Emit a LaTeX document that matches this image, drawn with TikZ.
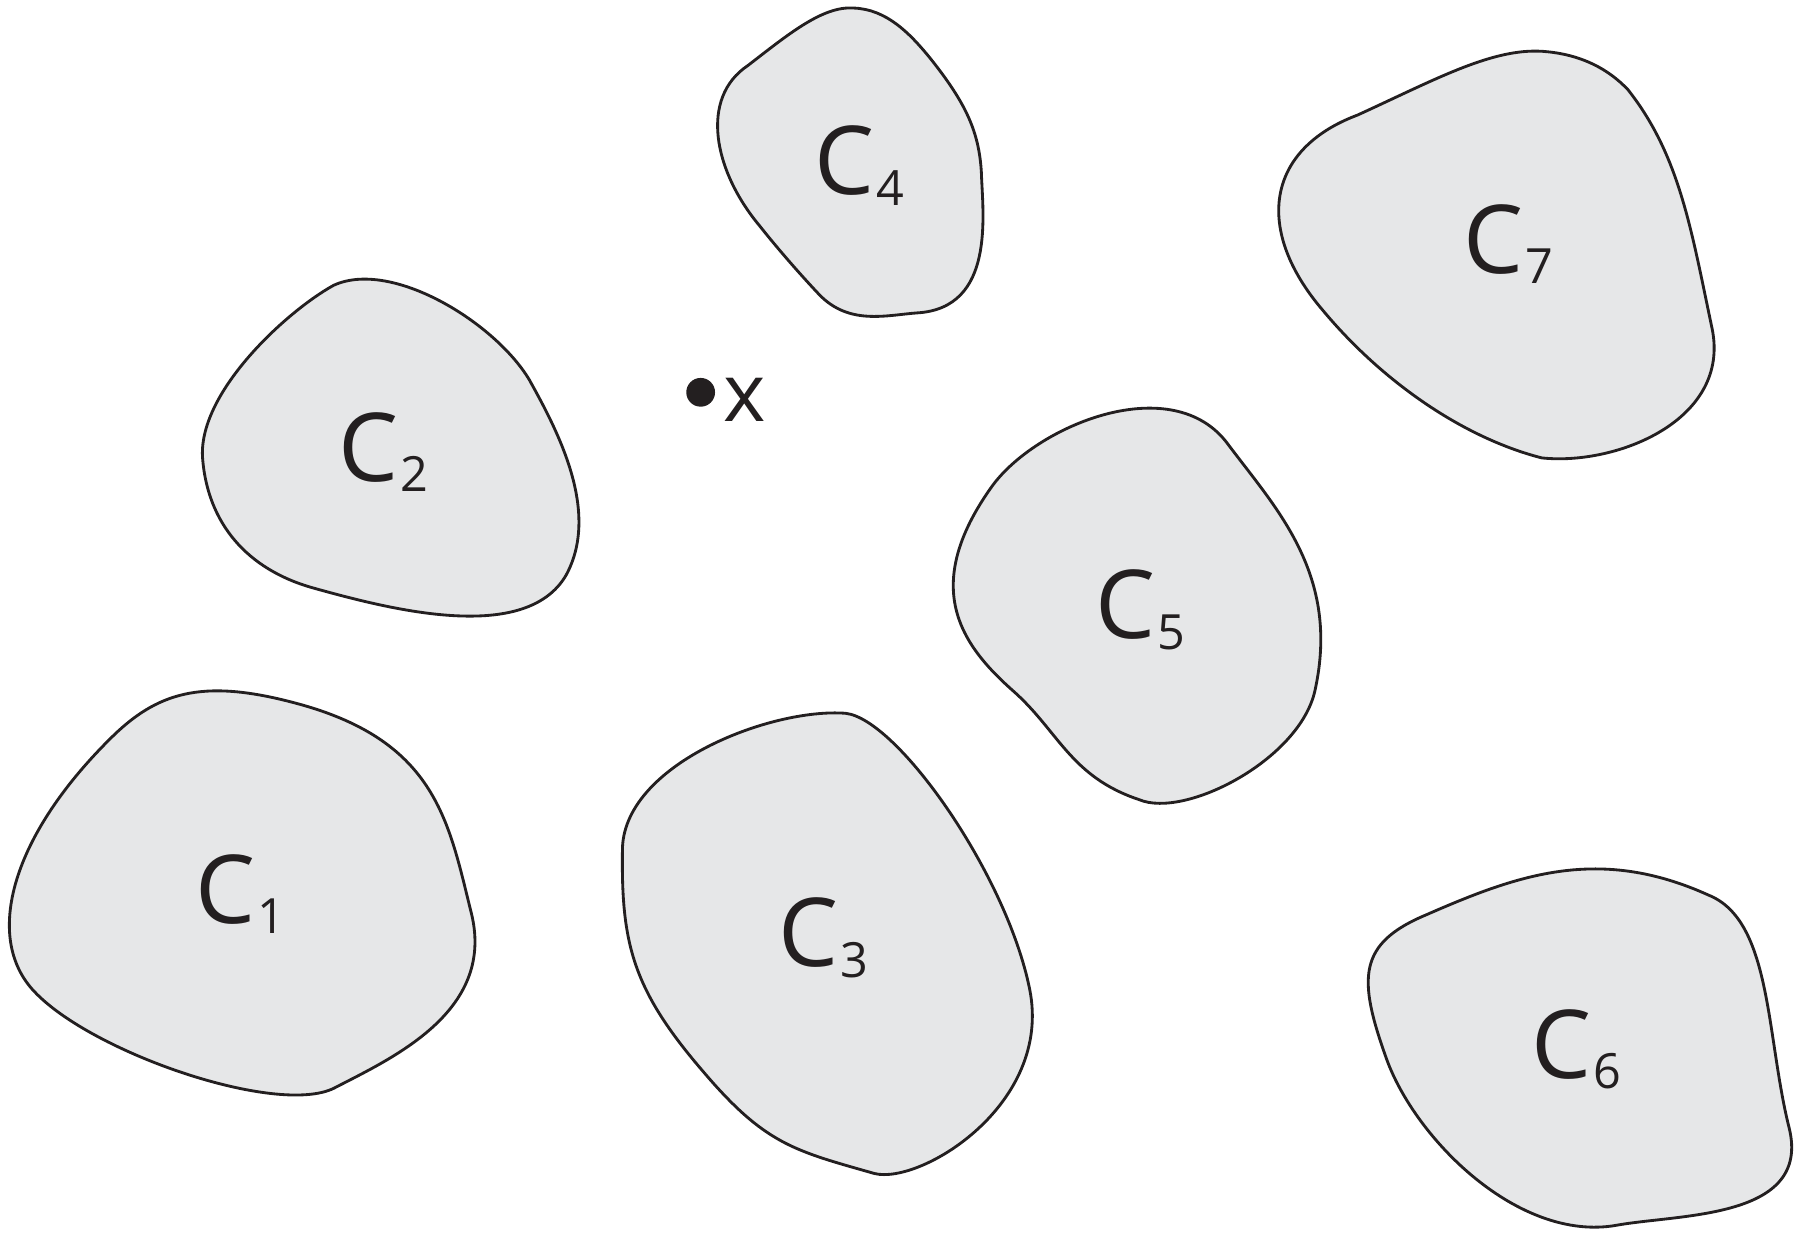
\documentclass[tikz,border=0pt]{standalone}
\usepackage{fontspec}
\setmainfont{Open Sans}
\definecolor{blobfill}{HTML}{E6E7E8}
\definecolor{ink}{HTML}{231F20}
\tikzset{
  blob/.style={draw=ink, fill=blobfill, line width=0.7pt, line join=round},
  lbl/.style={text=ink, inner sep=0pt}
}
\newcommand{\clab}[1]{{\fontsize{23.5}{24}\selectfont C\kern0.5pt\raisebox{-2.6pt}{\fontsize{12}{12}\selectfont #1}}}
\begin{document}
\begin{tikzpicture}[x=0.01cm,y=-0.01cm]
\useasboundingbox (0,0) rectangle (1568,1095);
% C4
\draw[blob] (650,57) .. controls (685,30) and (715,5) .. (742,7)
  .. controls (770,8) and (790,28) .. (808,50)
  .. controls (840,90) and (851,115) .. (853,150)
  .. controls (854,185) and (866,268) .. (797,272)
  .. controls (770,274) and (738,283) .. (712,256)
  .. controls (695,238) and (675,215) .. (660,196)
  .. controls (620,148) and (608,85) .. (650,57) -- cycle;
% C7
\draw[blob] (1180,100) .. controls (1250,68) and (1300,40) .. (1345,45)
  .. controls (1375,48) and (1398,60) .. (1415,78)
  .. controls (1460,135) and (1470,200) .. (1488,285)
  .. controls (1505,365) and (1405,405) .. (1340,398)
  .. controls (1270,380) and (1200,330) .. (1150,270)
  .. controls (1090,200) and (1100,130) .. (1180,100) -- cycle;
% C2
\draw[blob] (290,248) .. controls (340,225) and (430,280) .. (460,330)
  .. controls (485,375) and (522,445) .. (492,500)
  .. controls (457,560) and (340,530) .. (272,511)
  .. controls (215,495) and (180,455) .. (176,397)
  .. controls (173,340) and (250,270) .. (290,248) -- cycle;
% C5
\draw[blob] (862,423) .. controls (900,370) and (1020,320) .. (1068,387)
  .. controls (1110,443) and (1165,500) .. (1143,600)
  .. controls (1130,660) and (1030,712) .. (990,695)
  .. controls (930,675) and (920,635) .. (880,600)
  .. controls (835,560) and (800,510) .. (862,423) -- cycle;
% C1
\draw[blob] (100,638) .. controls (140,600) and (180,590) .. (260,612)
  .. controls (380,645) and (390,715) .. (410,795)
  .. controls (430,880) and (340,920) .. (290,946)
  .. controls (240,970) and (80,915) .. (30,862)
  .. controls (-15,815) and (10,725) .. (100,638) -- cycle;
% C3
\draw[blob] (541,740) .. controls (540,665) and (670,615) .. (735,620)
  .. controls (780,625) and (875,760) .. (895,860)
  .. controls (915,960) and (800,1030) .. (760,1020)
  .. controls (690,1000) and (665,995) .. (610,930)
  .. controls (550,860) and (540,820) .. (541,740) -- cycle;
% C6
\draw[blob] (1240,795) .. controls (1320,760) and (1390,735) .. (1485,778)
  .. controls (1540,800) and (1535,900) .. (1555,980)
  .. controls (1575,1060) and (1460,1055) .. (1405,1065)
  .. controls (1320,1080) and (1230,990) .. (1205,920)
  .. controls (1180,850) and (1180,820) .. (1240,795) -- cycle;
% labels
\node[lbl] (c4) at (747,144) {\clab{4}};
\node[lbl] (c7) at (1311,212) {\clab{7}};
\node[lbl] (c2) at (333,393) {\clab{2}};
\node[lbl] (c5) at (991,530) {\clab{5}};
\node[lbl] (c1) at (209,777) {\clab{1}};
\node[lbl] (c3) at (716,815) {\clab{3}};
\node[lbl] (c6) at (1370,912) {\clab{6}};
% point x
\fill[ink] (609,341) circle (12.5);
\node[lbl, anchor=base west] (xl) at (628,366) {\fontsize{20}{20}\selectfont x};
\end{tikzpicture}
\end{document}
